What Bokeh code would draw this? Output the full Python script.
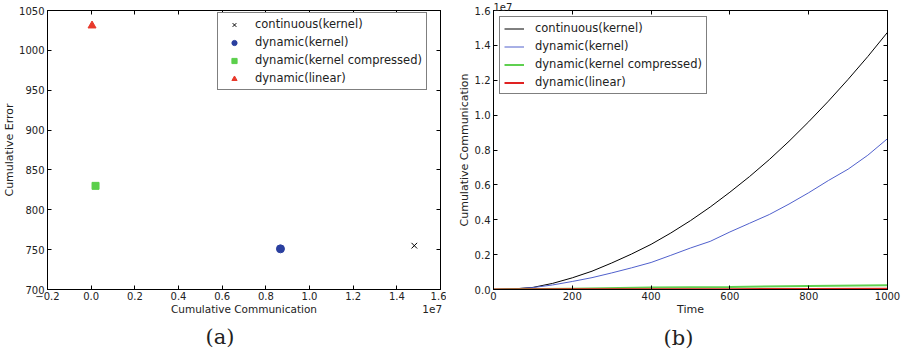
from bokeh.plotting import figure
from bokeh.layouts import row
from bokeh.models import (FixedTicker, CustomJSTickFormatter, LinearAxis, Legend,
                          LegendItem, Title)
from bokeh.embed import file_html
from bokeh.resources import INLINE

# ---------------- data ----------------
# (a) cumulative communication (units of 1e7) vs cumulative error
series_names = ["continuous(kernel)", "dynamic(kernel)",
                "dynamic(kernel compressed)", "dynamic(linear)"]
total_comm_e7 = [1.48, 0.867, 0.020, 0.004]
total_error = [755, 751, 830, 1031]

# (b) cumulative communication over time (units of 1e7)
time = [0, 50, 100, 150, 200, 250, 300, 350, 400, 450, 500,
        550, 600, 650, 700, 750, 800, 850, 900, 950, 1000]
cont_kernel = [0, 0.003, 0.012, 0.035, 0.067, 0.105, 0.152, 0.203, 0.259, 0.324,
               0.395, 0.473, 0.558, 0.648, 0.745, 0.850, 0.962, 1.080, 1.205,
               1.336, 1.475]
dyn_kernel = [0, 0.003, 0.011, 0.026, 0.046, 0.068, 0.095, 0.124, 0.155, 0.196,
              0.238, 0.276, 0.330, 0.380, 0.430, 0.490, 0.555, 0.625, 0.690,
              0.770, 0.865]
time_coarse = [0, 200, 400, 600, 800, 1000]
dyn_kernel_comp = [0, 0.005, 0.011, 0.015, 0.020, 0.025]
dyn_linear = [0, 0.001, 0.002, 0.002, 0.003, 0.004]

x_ticks_a = [-0.2, 0.0, 0.2, 0.4, 0.6, 0.8, 1.0, 1.2, 1.4, 1.6]
y_ticks_a = [700, 750, 800, 850, 900, 950, 1000, 1050]
x_ticks_b = [0, 200, 400, 600, 800, 1000]
y_ticks_b = [0.0, 0.2, 0.4, 0.6, 0.8, 1.0, 1.2, 1.4, 1.6]

# where the x-axis title and the "1e7" multiplier sit under panel (a)
xlabel_a_pos = [0.7, 1.562]

FONT = "DejaVu Sans"
TICK_FS = "10px"
LAB_FS = "11px"
LEG_FS = "11.5px"
TXT = "#222222"

fmt1 = CustomJSTickFormatter(code="return tick.toFixed(1).replace('-', '\u2212');")


def blank_fmt():
    return CustomJSTickFormatter(code="return '';")


def style_axes(p, xt, yt, xfmt=None, yfmt=None):
    for ax in p.xaxis + p.yaxis:
        ax.major_tick_in = 4
        ax.major_tick_out = 0
        ax.minor_tick_line_color = None
        ax.axis_line_color = "black"
        ax.major_tick_line_color = "black"
        ax.major_label_text_font = FONT
        ax.major_label_text_font_size = TICK_FS
        ax.major_label_text_color = TXT
        ax.axis_label_text_font = FONT
        ax.axis_label_text_font_size = LAB_FS
        ax.axis_label_text_font_style = "normal"
        ax.axis_label_text_color = TXT
        ax.major_label_standoff = 3
        ax.axis_label_standoff = 1
    p.xaxis.ticker = FixedTicker(ticks=xt)
    p.yaxis.ticker = FixedTicker(ticks=yt)
    if xfmt is not None:
        p.xaxis.formatter = xfmt
    if yfmt is not None:
        p.yaxis.formatter = yfmt
    # mirrored inward ticks on top and right
    top = LinearAxis(ticker=FixedTicker(ticks=xt), formatter=blank_fmt(),
                     major_tick_in=4, major_tick_out=0, minor_tick_line_color=None,
                     major_label_standoff=0, axis_label_standoff=0)
    right = LinearAxis(ticker=FixedTicker(ticks=yt), formatter=blank_fmt(),
                       major_tick_in=4, major_tick_out=0, minor_tick_line_color=None,
                       major_label_standoff=0, axis_label_standoff=0)
    p.add_layout(top, "above")
    p.add_layout(right, "right")
    p.xgrid.visible = False
    p.ygrid.visible = False
    p.outline_line_color = "black"


def style_legend(lg):
    lg.label_text_font = FONT
    lg.label_text_font_size = LEG_FS
    lg.label_text_color = TXT
    lg.border_line_color = "black"
    lg.border_line_width = 1
    lg.background_fill_color = "white"
    lg.background_fill_alpha = 1
    lg.padding = 4
    lg.spacing = 4
    lg.label_height = 13
    lg.glyph_height = 13
    lg.margin = 0


def caption(text, offset, standoff):
    return Title(text=text, align="left", offset=offset, standoff=standoff,
                 text_font="DejaVu Serif", text_font_size="21px",
                 text_font_style="normal", text_color=TXT)


# ---------------- (a) ----------------
pa = figure(width=446, height=359, x_range=(-0.2, 1.6), y_range=(700, 1050),
            output_backend="svg", toolbar_location=None,
            min_border_left=40, min_border_right=6, min_border_top=4,
            min_border_bottom=70)
pa.yaxis.axis_label = "Cumulative Error"
style_axes(pa, x_ticks_a, y_ticks_a, xfmt=fmt1)
pa.yaxis.axis_label_standoff = 0
pa.xaxis.axis_label_standoff = 0
pa.xaxis.major_label_standoff = 2

# second row under the tick labels: x-axis title plus the 1e7 multiplier
xlab = LinearAxis(ticker=FixedTicker(ticks=xlabel_a_pos),
                  formatter=CustomJSTickFormatter(
                      code="return tick < 1 ? 'Cumulative Communication' : '1e7';"),
                  major_tick_line_color=None, minor_tick_line_color=None,
                  major_tick_in=0, major_tick_out=0,
                  axis_line_color=None, major_label_standoff=0,
                  axis_label_standoff=0,
                  major_label_text_font=FONT, major_label_text_font_size="10.5px",
                  major_label_text_color=TXT)
pa.add_layout(xlab, "below")

r0 = pa.scatter([total_comm_e7[0]], [total_error[0]], marker="x", size=8,
                line_color="black", line_width=1)
r1 = pa.scatter([total_comm_e7[1]], [total_error[1]], marker="circle", size=8,
                fill_color="#2a3f9f", line_color="#2a3f9f")
r2 = pa.scatter([total_comm_e7[2]], [total_error[2]], marker="square", size=7,
                fill_color="#5bcf4b", line_color="#5bcf4b")
r3 = pa.scatter([total_comm_e7[3]], [total_error[3]], marker="triangle", size=8,
                fill_color="#e8392b", line_color="#e8392b")

lga = Legend(items=[LegendItem(label=series_names[i], renderers=[r])
                    for i, r in enumerate([r0, r1, r2, r3])],
             location=(170, 199))
style_legend(lga)
lga.glyph_width = 24
lga.label_standoff = 9
pa.add_layout(lga, "center")

pa.add_layout(caption("(a)", 158, 10), "below")

# ---------------- (b) ----------------
pb = figure(width=455, height=359, x_range=(0, 1000), y_range=(0, 1.6),
            output_backend="svg", toolbar_location=None,
            min_border_left=47, min_border_right=14, min_border_top=4,
            min_border_bottom=68)
pb.xaxis.axis_label = "Time"
pb.yaxis.axis_label = "Cumulative Communication"
style_axes(pb, x_ticks_b, y_ticks_b, yfmt=fmt1)
pb.xaxis.axis_label_standoff = 0
pb.xaxis.major_label_standoff = 2

l0 = pb.line(time, cont_kernel, line_color="black", line_width=1)
l1 = pb.line(time, dyn_kernel, line_color="#5060cc", line_width=1)
l2 = pb.line(time_coarse, dyn_kernel_comp, line_color="#5fd050", line_width=2)
l3 = pb.line(time_coarse, dyn_linear, line_color="#e02222", line_width=2)

lgb = Legend(items=[LegendItem(label=series_names[i], renderers=[r])
                    for i, r in enumerate([l0, l1, l2, l3])],
             location="top_left")
style_legend(lgb)
lgb.margin = 6
lgb.glyph_width = 20
lgb.label_standoff = 11
pb.add_layout(lgb, "center")

pb.add_layout(Title(text="1e7", align="left", offset=0, standoff=0,
                    text_font=FONT, text_font_size=TICK_FS,
                    text_font_style="normal", text_color=TXT), "above")
pb.add_layout(caption("(b)", 170, 10), "below")

layout = row(pa, pb)
open("out.html", "w").write(file_html(layout, INLINE))
